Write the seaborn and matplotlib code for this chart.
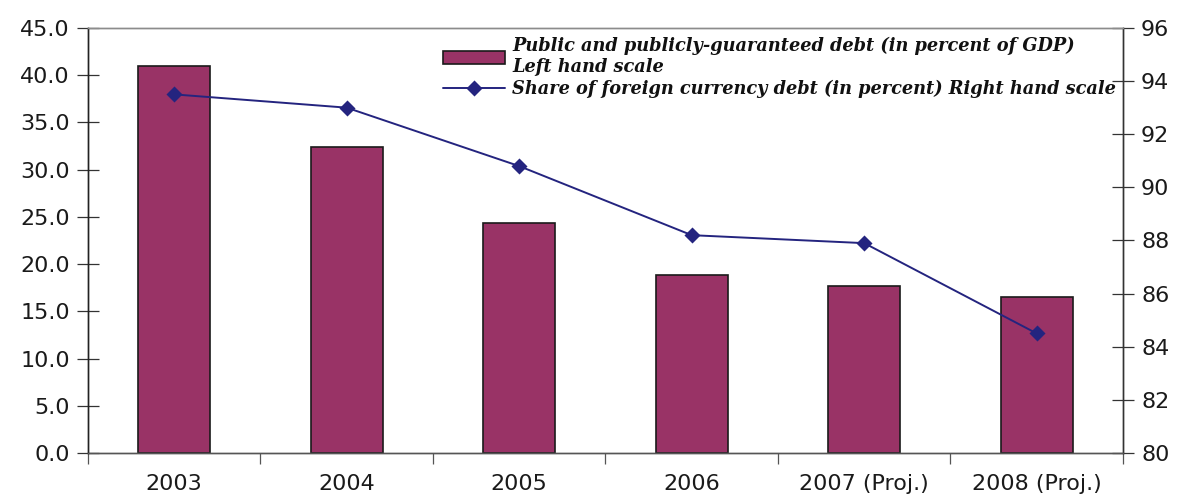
import matplotlib
matplotlib.use("Agg")
import matplotlib.pyplot as plt
from matplotlib.ticker import FixedLocator, FormatStrFormatter, NullFormatter
import seaborn as sns

years = ["2003", "2004", "2005", "2006", "2007 (Proj.)", "2008 (Proj.)"]
public_debt = [41.0, 32.4, 24.4, 18.8, 17.7, 16.5]
foreign_share = [93.5, 93.0, 90.8, 88.2, 87.9, 84.5]
left_ticks = [0, 5, 10, 15, 20, 25, 30, 35, 40, 45]
right_ticks = [80, 82, 84, 86, 88, 90, 92, 94, 96]

bar_color = "#993366"
line_color = "#24247F"

sns.set_theme(style="white")
plt.rcParams["font.family"] = ["DejaVu Sans"]

fig = plt.figure(figsize=(11.78, 4.98), dpi=100)
ax = fig.add_axes([0.0747, 0.0904, 0.9533 - 0.0747, 0.9438 - 0.0904])

sns.barplot(x=years, y=public_debt, ax=ax, color=bar_color, width=0.42,
            edgecolor="#1a1a1a", linewidth=1.2, saturation=1,
            label="Public and publicly-guaranteed debt (in percent of GDP)\nLeft hand scale")

ax2 = ax.twinx()
sns.pointplot(x=years, y=foreign_share, ax=ax2, color=line_color,
              markers="D", linestyles="-", markersize=7, linewidth=1.4,
              label="Share of foreign currency debt (in percent) Right hand scale")

ax.set_xlim(-0.5, 5.5)
ax.set_ylim(0, 45)
ax2.set_ylim(80, 96)

ax.yaxis.set_major_locator(FixedLocator(left_ticks))
ax.yaxis.set_major_formatter(FormatStrFormatter("%.1f"))
ax2.yaxis.set_major_locator(FixedLocator(right_ticks))
ax2.yaxis.set_major_formatter(FormatStrFormatter("%d"))

# category labels centred, tick marks on the boundaries between categories
ax.set_xticks(range(len(years)))
ax.set_xticklabels(years)
ax.xaxis.set_minor_locator(FixedLocator([i - 0.5 for i in range(len(years) + 1)]))
ax.xaxis.set_minor_formatter(NullFormatter())
ax.tick_params(axis="x", which="major", length=0, pad=15, labelsize=16, colors="#1a1a1a")
ax.tick_params(axis="x", which="minor", bottom=True, length=8, width=0.9,
               direction="out", color="#555555")
ax.tick_params(axis="y", which="major", left=True, length=16, width=0.9,
               direction="inout", pad=5, labelsize=16, labelcolor="#1a1a1a", color="#333333")
ax2.tick_params(axis="y", which="major", right=True, length=16, width=0.9,
                direction="inout", pad=5, labelsize=16, labelcolor="#1a1a1a", color="#333333")

ax.set_xlabel("")
ax.set_ylabel("")
ax2.set_xlabel("")
ax2.set_ylabel("")

for a in (ax, ax2):
    for side, sp in a.spines.items():
        sp.set_visible(True)
        sp.set_linewidth(1.0)
    a.spines["top"].set_color("#8c8c8c")
    a.spines["bottom"].set_color("#555555")
    a.spines["left"].set_color("#222222")
    a.spines["right"].set_color("#333333")
    a.grid(False)

if ax.get_legend() is not None:
    ax.get_legend().remove()
if ax2.get_legend() is not None:
    ax2.get_legend().remove()

h1, l1 = ax.get_legend_handles_labels()
h2, l2 = ax2.get_legend_handles_labels()
leg = ax2.legend(h1 + h2, l1 + l2, loc="upper left",
                 bbox_to_anchor=(443 / 1178, 1 - 37 / 498),
                 bbox_transform=fig.transFigure, frameon=False,
                 borderpad=0, borderaxespad=0, handlelength=3.5,
                 handletextpad=0.4, labelspacing=0.2,
                 prop={"family": "DejaVu Serif", "weight": "bold",
                       "style": "italic", "size": 12.8})
for t in leg.get_texts():
    t.set_color("#111111")

fig.savefig("out.png", dpi=100)
